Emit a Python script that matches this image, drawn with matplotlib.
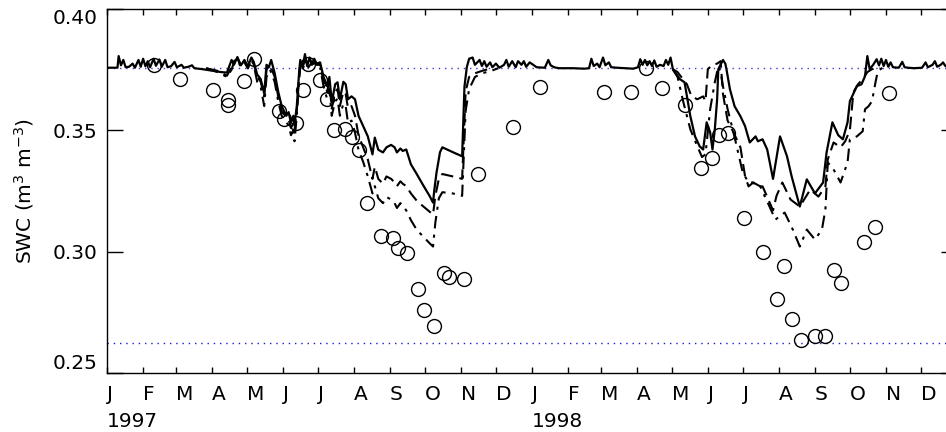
import numpy as np
import matplotlib
matplotlib.use("Agg")
import matplotlib.pyplot as plt

# days counted from 1 Jan 1997
obs_day = [40, 63, 91, 104, 104, 118, 126, 148, 152, 162, 168, 173, 183, 189, 195, 204, 210, 216,
           223, 235, 246, 250, 258, 267, 272, 281, 289, 294, 307, 319, 349, 372, 427, 450, 463,
           477, 496, 510, 520, 526, 533, 547, 563, 575, 581, 588, 596, 608, 617, 624, 630, 650,
           660, 672]
obs_swc = [0.3769, 0.3711, 0.3665, 0.3624, 0.3603, 0.3702, 0.3793, 0.3579, 0.3545, 0.3529,
           0.3665, 0.3773, 0.3707, 0.3628, 0.3500, 0.3504, 0.3471, 0.3417, 0.3202, 0.3066,
           0.3058, 0.3017, 0.2996, 0.2847, 0.2760, 0.2694, 0.2913, 0.2897, 0.2888, 0.3322,
           0.3512, 0.3678, 0.3657, 0.3657, 0.3756, 0.3674, 0.3603, 0.3343, 0.3384, 0.3479,
           0.3488, 0.3140, 0.3000, 0.2806, 0.2942, 0.2723, 0.2636, 0.2653, 0.2653, 0.2926,
           0.2872, 0.3041, 0.3103, 0.3653]

solid_day = [0, 9, 10, 12, 14, 16, 19, 22, 24, 27, 29, 31, 33, 35, 37, 40, 42, 45, 47, 50, 52, 55,
             58, 60, 64, 66, 70, 73, 75, 82, 90, 98, 103, 107, 109, 112, 115, 118, 121, 124, 126,
             129, 132, 135, 137, 139, 141, 144, 147, 150, 152, 154, 156, 158, 160, 161, 163, 165,
             166, 168, 170, 172, 174, 176, 178, 180, 183, 186, 189, 191, 193, 196, 198, 200, 203,
             205, 207, 210, 213, 216, 220, 224, 228, 230, 233, 237, 240, 244, 247, 249, 252, 254,
             257, 261, 266, 272, 277, 280, 281, 283, 286, 288, 297, 305, 307, 309, 311, 314, 316,
             320, 322, 324, 326, 329, 331, 334, 337, 341, 343, 345, 348, 351, 353, 356, 358, 360,
             363, 366, 369, 376, 379, 381, 384, 388, 400, 410, 414, 416, 418, 421, 423, 426, 428,
             431, 433, 438, 445, 452, 456, 458, 460, 462, 464, 466, 468, 470, 472, 475, 478, 480,
             482, 484, 486, 492, 496, 501, 505, 509, 512, 515, 518, 520, 522, 524, 525, 528, 529,
             531, 532, 535, 539, 544, 548, 552, 557, 559, 563, 567, 572, 578, 584, 588, 595, 601,
             608, 615, 618, 623, 628, 632, 636, 638, 644, 648, 651, 653, 655, 658, 661, 663, 665,
             667, 669, 671, 673, 675, 680, 683, 685, 688, 693, 700, 703, 705, 709, 711, 713, 716,
             718, 720, 724, 730]
solid_swc = [0.3758, 0.3758, 0.3806, 0.3768, 0.3790, 0.3760, 0.3762, 0.3775, 0.3758, 0.3790,
             0.3762, 0.3795, 0.3764, 0.3785, 0.3760, 0.3795, 0.3766, 0.3792, 0.3762, 0.3790,
             0.3760, 0.3764, 0.3782, 0.3760, 0.3770, 0.3758, 0.3762, 0.3768, 0.3756, 0.3752,
             0.3746, 0.3740, 0.3738, 0.3790, 0.3770, 0.3802, 0.3768, 0.3790, 0.3764, 0.3800,
             0.3782, 0.3730, 0.3711, 0.3652, 0.3770, 0.3760, 0.3790, 0.3736, 0.3660, 0.3600,
             0.3580, 0.3560, 0.3575, 0.3530, 0.3560, 0.3521, 0.3600, 0.3740, 0.3790, 0.3760,
             0.3814, 0.3765, 0.3800, 0.3770, 0.3795, 0.3775, 0.3780, 0.3720, 0.3682, 0.3720,
             0.3616, 0.3690, 0.3698, 0.3628, 0.3700, 0.3690, 0.3628, 0.3640, 0.3628, 0.3560,
             0.3517, 0.3475, 0.3401, 0.3470, 0.3420, 0.3409, 0.3430, 0.3440, 0.3430, 0.3409,
             0.3425, 0.3415, 0.3421, 0.3360, 0.3320, 0.3270, 0.3230, 0.3202, 0.3250, 0.3326,
             0.3410, 0.3430, 0.3410, 0.3393, 0.3680, 0.3760, 0.3795, 0.3800, 0.3770, 0.3790,
             0.3765, 0.3785, 0.3762, 0.3780, 0.3760, 0.3775, 0.3758, 0.3770, 0.3790, 0.3762,
             0.3785, 0.3760, 0.3785, 0.3770, 0.3785, 0.3762, 0.3780, 0.3770, 0.3760, 0.3758,
             0.3790, 0.3768, 0.3760, 0.3756, 0.3756, 0.3754, 0.3756, 0.3795, 0.3765, 0.3775,
             0.3760, 0.3800, 0.3768, 0.3780, 0.3760, 0.3758, 0.3756, 0.3754, 0.3760, 0.3793,
             0.3770, 0.3790, 0.3768, 0.3785, 0.3765, 0.3788, 0.3762, 0.3770, 0.3765, 0.3790,
             0.3770, 0.3800, 0.3752, 0.3711, 0.3698, 0.3558, 0.3475, 0.3434, 0.3421, 0.3533,
             0.3492, 0.3421, 0.3504, 0.3628, 0.3752, 0.3781, 0.3790, 0.3775, 0.3752, 0.3669,
             0.3599, 0.3558, 0.3517, 0.3450, 0.3475, 0.3455, 0.3463, 0.3421, 0.3300, 0.3475,
             0.3393, 0.3310, 0.3186, 0.3298, 0.3240, 0.3285, 0.3409, 0.3533, 0.3480, 0.3463,
             0.3533, 0.3620, 0.3682, 0.3690, 0.3723, 0.3806, 0.3752, 0.3770, 0.3793, 0.3768,
             0.3795, 0.3765, 0.3790, 0.3762, 0.3780, 0.3760, 0.3758, 0.3782, 0.3760, 0.3758,
             0.3756, 0.3758, 0.3780, 0.3760, 0.3770, 0.3785, 0.3762, 0.3770, 0.3780, 0.3765,
             0.3760, 0.3758]

dash97_day = [85, 95, 103, 107, 109, 112, 115, 118, 121, 124, 126, 129, 132, 135, 137, 140, 144,
              147, 150, 153, 156, 158, 160, 161, 163, 165, 166, 168, 170, 173, 176, 180, 183, 186,
              189, 191, 193, 196, 198, 200, 203, 205, 207, 210, 213, 216, 220, 224, 228, 230, 233,
              237, 240, 244, 247, 249, 252, 254, 257, 261, 266, 272, 277, 280, 282, 285, 288, 297,
              305, 308, 311, 316, 322, 330]
dash97_swc = [0.3756, 0.3745, 0.3725, 0.3760, 0.3785, 0.3795, 0.3765, 0.3785, 0.3760, 0.3795,
              0.3775, 0.3720, 0.3700, 0.3640, 0.3750, 0.3770, 0.3720, 0.3640, 0.3580, 0.3560,
              0.3545, 0.3510, 0.3530, 0.3500, 0.3580, 0.3720, 0.3780, 0.3760, 0.3790, 0.3765,
              0.3785, 0.3770, 0.3770, 0.3700, 0.3660, 0.3700, 0.3590, 0.3660, 0.3670, 0.3600,
              0.3660, 0.3650, 0.3590, 0.3600, 0.3560, 0.3480, 0.3430, 0.3380, 0.3300, 0.3350,
              0.3300, 0.3280, 0.3310, 0.3300, 0.3285, 0.3270, 0.3290, 0.3280, 0.3270, 0.3240,
              0.3210, 0.3185, 0.3165, 0.3153, 0.3230, 0.3300, 0.3320, 0.3310, 0.3300, 0.3660,
              0.3720, 0.3735, 0.3745, 0.3756]
dash98_day = [486, 490, 498, 502, 507, 512, 514, 516, 520, 524, 527, 529, 533, 538, 544, 548, 551,
              555, 558, 563, 568, 572, 575, 580, 587, 595, 604, 611, 617, 619, 624, 630, 634, 638,
              641, 645, 649, 653, 657, 664]
dash98_swc = [0.3752, 0.3740, 0.3690, 0.3640, 0.3628, 0.3640, 0.3620, 0.3752, 0.3770, 0.3775,
              0.3785, 0.3650, 0.3540, 0.3492, 0.3430, 0.3310, 0.3269, 0.3285, 0.3269, 0.3269,
              0.3215, 0.3170, 0.3230, 0.3285, 0.3215, 0.3186, 0.3256, 0.3227, 0.3269, 0.3380,
              0.3450, 0.3430, 0.3455, 0.3500, 0.3657, 0.3690, 0.3711, 0.3740, 0.3752, 0.3758]

dd97_day = [85, 95, 103, 107, 109, 112, 115, 118, 121, 124, 126, 129, 132, 135, 137, 140, 144,
            147, 150, 153, 156, 158, 160, 161, 163, 165, 166, 168, 170, 173, 176, 180, 183, 186,
            189, 191, 193, 196, 198, 200, 203, 205, 207, 210, 213, 216, 220, 224, 228, 230, 233,
            237, 240, 244, 247, 249, 252, 254, 257, 261, 266, 272, 277, 280, 282, 285, 288, 297,
            305, 308, 311, 316, 322, 330, 336]
dd97_swc = [0.3756, 0.3740, 0.3720, 0.3750, 0.3780, 0.3790, 0.3760, 0.3780, 0.3755, 0.3790,
            0.3770, 0.3700, 0.3680, 0.3600, 0.3720, 0.3750, 0.3700, 0.3620, 0.3560, 0.3540,
            0.3520, 0.3480, 0.3500, 0.3455, 0.3560, 0.3700, 0.3770, 0.3750, 0.3780, 0.3760,
            0.3780, 0.3765, 0.3760, 0.3680, 0.3630, 0.3670, 0.3560, 0.3620, 0.3630, 0.3560,
            0.3610, 0.3600, 0.3530, 0.3540, 0.3490, 0.3420, 0.3370, 0.3310, 0.3240, 0.3270,
            0.3220, 0.3200, 0.3225, 0.3215, 0.3200, 0.3180, 0.3200, 0.3190, 0.3170, 0.3130,
            0.3090, 0.3060, 0.3035, 0.3021, 0.3120, 0.3220, 0.3245, 0.3240, 0.3230, 0.3580,
            0.3670, 0.3720, 0.3735, 0.3745, 0.3756]
dd98_day = [486, 490, 495, 501, 507, 511, 514, 518, 522, 525, 527, 529, 533, 538, 542, 546, 551,
            555, 561, 565, 569, 574, 582, 589, 595, 601, 608, 614, 617, 619, 624, 630, 636, 638,
            644, 649, 651, 654, 657, 660, 662, 666]
dd98_swc = [0.3750, 0.3720, 0.3616, 0.3504, 0.3434, 0.3390, 0.3401, 0.3587, 0.3698, 0.3764,
            0.3740, 0.3682, 0.3587, 0.3492, 0.3409, 0.3326, 0.3285, 0.3285, 0.3269, 0.3227,
            0.3186, 0.3132, 0.3161, 0.3091, 0.3021, 0.3091, 0.3050, 0.3091, 0.3174, 0.3368,
            0.3339, 0.3285, 0.3368, 0.3463, 0.3475, 0.3496, 0.3587, 0.3599, 0.3620, 0.3698,
            0.3744, 0.3758]

sat_level = 0.3758
wilt_level = 0.2624

month_letters = list("JFMAMJJASOND") * 2
year_labels = ["1997", "1998"]
y_ticks = [0.25, 0.30, 0.35, 0.40]

plt.rcParams["font.family"] = "DejaVu Sans"
plt.rcParams["font.size"] = 14.5

fig = plt.figure(figsize=(9.46, 4.32), dpi=100)
ax = fig.add_axes([107 / 946, 59 / 432, 850 / 946, 364 / 432])
ax.set_xlim(0, 730)
ax.set_ylim(0.25, 0.40)

# reference levels
ax.axhline(sat_level, color="#3a3ad0", lw=1.0, ls=(0, (1, 3.5)))
ax.axhline(wilt_level, color="#1a1ad0", lw=1.0, ls=(0, (1, 3.5)))

ax.plot(solid_day, solid_swc, color="black", lw=1.6, ls="-")
ax.plot(dash97_day, dash97_swc, color="black", lw=1.5, ls=(0, (6, 3)))
ax.plot(dash98_day, dash98_swc, color="black", lw=1.5, ls=(0, (6, 3)))
ax.plot(dd97_day, dd97_swc, color="black", lw=1.5, ls=(0, (6, 3, 1.5, 3)))
ax.plot(dd98_day, dd98_swc, color="black", lw=1.5, ls=(0, (6, 3, 1.5, 3)))
ax.plot(obs_day, obs_swc, ls="none", marker="o", ms=10, mfc="none", mec="black", mew=1.0)

# month ticks
month_starts = (np.arange("1997-01", "1999-01", dtype="datetime64[M]").astype("datetime64[D]")
                - np.datetime64("1997-01-01")).astype(int)
ax.set_xticks(month_starts)
ax.set_xticklabels(month_letters)
for lbl in ax.get_xticklabels():
    lbl.set_horizontalalignment("left")
ax.set_xticks([month_starts[0], month_starts[12]], minor=True)
ax.tick_params(axis="x", which="major", direction="in", length=4, width=1, top=True, pad=9)
ax.tick_params(axis="x", which="minor", direction="in", length=8, width=1, top=True)

for i, yr in enumerate(year_labels):
    ax.annotate(yr, xy=(month_starts[12 * i], 0), xycoords=("data", "axes fraction"),
                xytext=(0, -28), textcoords="offset points", ha="left", va="top")

ax.set_yticks(y_ticks)
ax.set_yticklabels(["%.2f" % v for v in y_ticks])
ax.tick_params(axis="y", direction="in", length=11.5, width=1, right=True, pad=7)
ylbls = ax.get_yticklabels()
ylbls[0].set_verticalalignment("bottom")
ylbls[-1].set_verticalalignment("top")

ax.set_ylabel("SWC (m$^{3}$ m$^{-3}$)", labelpad=12)

for s in ax.spines.values():
    s.set_linewidth(1.0)

fig.savefig("out.png", dpi=100)
